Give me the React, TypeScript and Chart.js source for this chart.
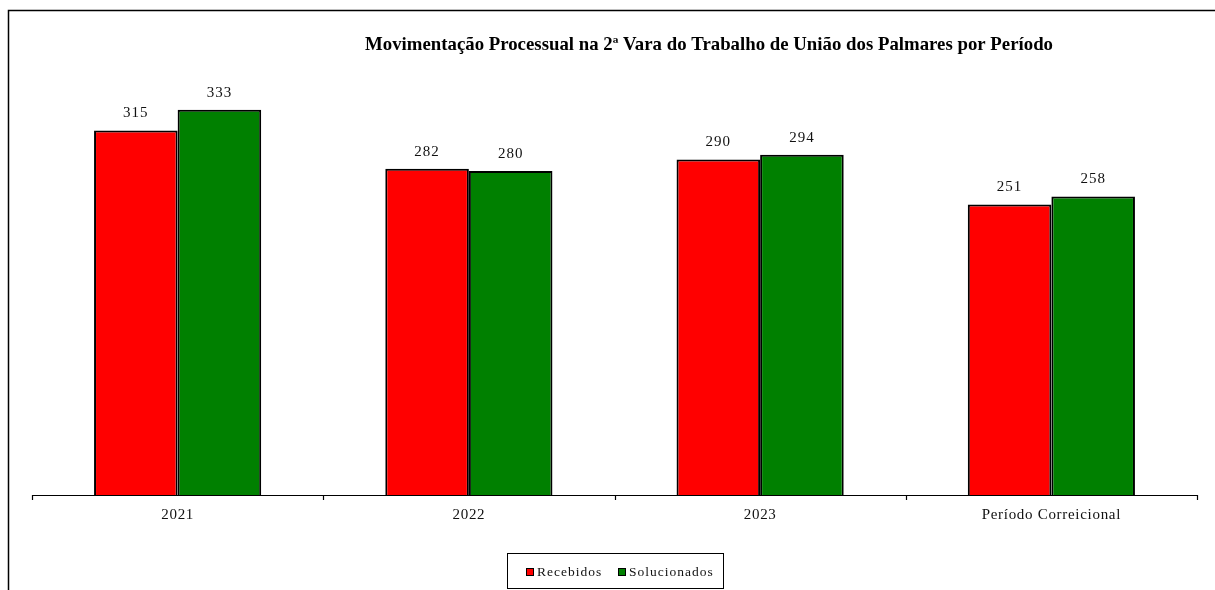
import React, { useEffect, useRef } from "react";
import { Chart, registerables } from "chart.js";

Chart.register(...registerables);

const categories = ["2021", "2022", "2023", "Período Correicional"];
const recebidos = [315, 282, 290, 251];
const solucionados = [333, 280, 294, 258];
const seriesNames = ["Recebidos", "Solucionados"];
const seriesColors = ["#FF0000", "#008000"];
const titleText = "Movimentação Processual na 2ª Vara do Trabalho de União dos Palmares por Período";

const SERIF = '"Liberation Serif", "Times New Roman", serif';

const decorPlugin = {
  id: "decor",
  afterDraw(chart: any) {
    const ctx = chart.ctx as CanvasRenderingContext2D;
    const area = chart.chartArea;
    const xs = chart.scales.x;
    ctx.save();
    // outer frame (top + left visible)
    ctx.strokeStyle = "#000";
    ctx.lineWidth = 1.5;
    ctx.beginPath();
    ctx.moveTo(8.5, chart.height + 5);
    ctx.lineTo(8.5, 10.5);
    ctx.lineTo(chart.width + 5, 10.5);
    ctx.stroke();

    // x axis line
    ctx.lineWidth = 1.2;
    ctx.beginPath();
    ctx.moveTo(area.left, area.bottom + 0.5);
    ctx.lineTo(area.right, area.bottom + 0.5);
    ctx.stroke();
    // tick marks at category boundaries
    const n = categories.length;
    for (let i = 0; i <= n; i++) {
      const x = Math.round(area.left + (area.right - area.left) * (i / n)) + 0.5;
      ctx.beginPath();
      ctx.moveTo(x, area.bottom);
      ctx.lineTo(x, area.bottom + 5);
      ctx.stroke();
    }
    // category labels
    ctx.fillStyle = "#111";
    ctx.font = `15px ${SERIF}`;
    (ctx as any).letterSpacing = "0.7px";
    ctx.textAlign = "center";
    ctx.textBaseline = "middle";
    categories.forEach((c, i) => {
      ctx.fillText(c, xs.getPixelForValue(i), area.bottom + 20);
    });

    // value labels
    (ctx as any).letterSpacing = "1px";
    chart.data.datasets.forEach((ds: any, di: number) => {
      const meta = chart.getDatasetMeta(di);
      meta.data.forEach((bar: any, i: number) => {
        ctx.fillText(String(ds.data[i]), bar.x, bar.y - 17);
      });
    });

    // title (fit to reference width)
    (ctx as any).letterSpacing = "0px";
    ctx.font = `bold 17px ${SERIF}`;
    ctx.fillStyle = "#000";
    const w = ctx.measureText(titleText).width;
    const target = 688;
    ctx.save();
    ctx.translate(709, 45);
    ctx.scale(target / w, 1.05);
    ctx.fillText(titleText, 0, 0);
    ctx.restore();

    // legend box
    ctx.lineWidth = 1;
    ctx.strokeStyle = "#000";
    ctx.strokeRect(507.5, 553.5, 216, 35);
    ctx.font = `13.5px ${SERIF}`;
    ctx.textAlign = "left";
    (ctx as any).letterSpacing = "1px";
    const items = [
      { x: 526, textX: 537 },
      { x: 618, textX: 629 },
    ];
    seriesNames.forEach((name, i) => {
      ctx.fillStyle = seriesColors[i];
      ctx.fillRect(items[i].x, 568, 7, 7);
      ctx.strokeRect(items[i].x + 0.5, 568.5, 7, 7);
      ctx.fillStyle = "#111";
      ctx.fillText(name, items[i].textX, 572);
    });
    ctx.restore();
  },
};

export default function App() {
  const canvasRef = useRef<HTMLCanvasElement | null>(null);

  useEffect(() => {
    document.body.style.margin = "0";
    const canvas = canvasRef.current!;
    const chart = new Chart(canvas, {
      type: "bar",
      data: {
        labels: categories,
        datasets: [
          {
            label: seriesNames[0],
            data: recebidos,
            backgroundColor: seriesColors[0],
            borderColor: "#000",
            borderWidth: 2,
            borderSkipped: "bottom",
          },
          {
            label: seriesNames[1],
            data: solucionados,
            backgroundColor: seriesColors[1],
            borderColor: "#000",
            borderWidth: 2,
            borderSkipped: "bottom",
          },
        ],
      },
      options: {
        responsive: false,
        animation: false,
        devicePixelRatio: 1,
        layout: { padding: { left: 32, right: 18, top: 90, bottom: 95 } },
        datasets: { bar: { barPercentage: 1, categoryPercentage: 0.574 } },
        scales: {
          x: { display: false },
          y: { display: false, min: 0, max: 350 },
        },
        plugins: {
          legend: { display: false },
          title: { display: false },
          tooltip: { enabled: false },
        },
      },
      plugins: [decorPlugin],
    });
    return () => chart.destroy();
  }, []);

  return (
    <canvas
      ref={canvasRef}
      width={1215}
      height={590}
      style={{ display: "block", width: 1215, height: 590 }}
    />
  );
}
